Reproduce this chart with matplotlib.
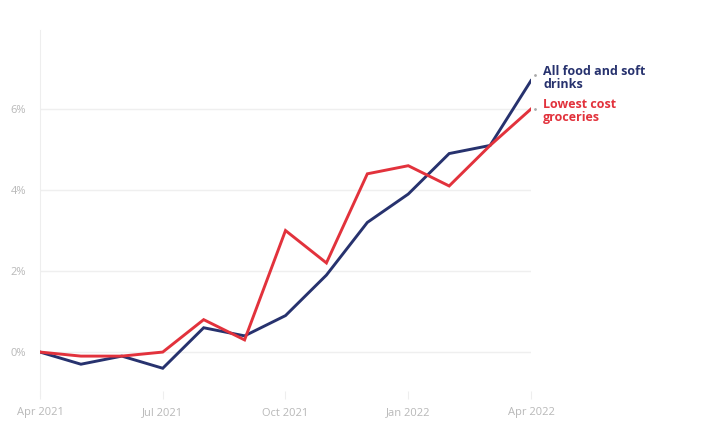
import numpy as np
import matplotlib.pyplot as plt

# months from Apr 2021 to Apr 2022
months = np.arange(13)
tick_pos = [0, 3, 6, 9, 12]
tick_labels = ['Apr 2021', 'Jul 2021', 'Oct 2021', 'Jan 2022', 'Apr 2022']

all_food = [0.0, -0.3, -0.1, -0.4, 0.6, 0.4, 0.9, 1.9, 3.2, 3.9, 4.9, 5.1, 6.7]
lowest_cost = [0.0, -0.1, -0.1, 0.0, 0.8, 0.3, 3.0, 2.2, 4.4, 4.6, 4.1, 5.1, 6.0]

navy = '#27326e'
red = '#e2323c'
grey_txt = '#b8b8b8'

plt.rcParams['font.family'] = ['Open Sans', 'DejaVu Sans']

fig = plt.figure(figsize=(7.04, 4.22), dpi=100)
ax = fig.add_axes([40 / 704, 1 - 395 / 422, 491 / 704, 365 / 422])

ax.plot(months, all_food, color=navy, lw=2.1, solid_joinstyle='miter', zorder=3)
ax.plot(months, lowest_cost, color=red, lw=2.1, solid_joinstyle='miter', zorder=4)

ax.set_xlim(0, 12)
ax.set_ylim(-1.06, 7.95)
ax.set_yticks([0, 2, 4, 6])
ax.set_yticklabels(['0%', '2%', '4%', '6%'])
ax.set_xticks(tick_pos)
ax.set_xticklabels(tick_labels)

ax.grid(axis='y', color='#efefef', lw=1)
ax.set_axisbelow(True)
for s in ['top', 'right', 'bottom']:
    ax.spines[s].set_visible(False)
ax.spines['left'].set_color('#eeeeee')
ax.tick_params(axis='y', length=0, pad=10, labelcolor=grey_txt, labelsize=8)
ax.tick_params(axis='x', length=6, color='#eeeeee', direction='inout', pad=6,
               labelcolor=grey_txt, labelsize=8)

# end labels
ax.text(12.3, 6.76, 'All food and soft\ndrinks', color=navy, fontsize=9,
        fontweight='bold', linespacing=0.95, ha='left', va='center')
ax.text(12.3, 5.95, 'Lowest cost\ngroceries', color=red, fontsize=9,
        fontweight='bold', linespacing=0.95, ha='left', va='center')
ax.plot([12.1], [6.85], marker='.', ms=2, color='#aaaaaa', clip_on=False)
ax.plot([12.1], [6.0], marker='.', ms=2, color='#aaaaaa', clip_on=False)

fig.savefig('out.png', dpi=100)
